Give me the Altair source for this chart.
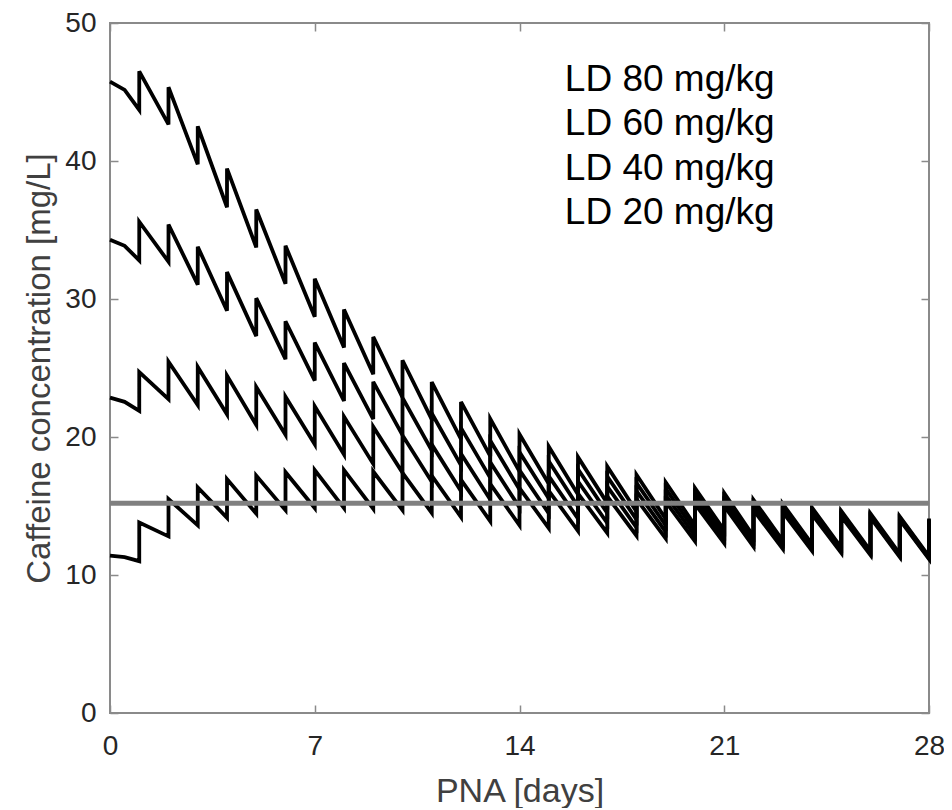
import altair as alt
import pandas as pd

series_names = ["LD 20 mg/kg", "LD 40 mg/kg", "LD 60 mg/kg", "LD 80 mg/kg"]

# concentration right after each daily dose (index = day 0..28; day 0 = start)
peaks = {
    "LD 20 mg/kg": [11.4, 13.8, 15.5, 16.35, 16.95, 17.2, 17.45, 17.6, 17.6, 17.5,
                    17.4, 17.2, 16.9, 16.6, 16.3, 16.1, 15.9, 15.7, 15.5, 15.3,
                    15.15, 15.0, 14.7, 14.55, 14.4, 14.25, 14.15, 14.0, 13.9],
    "LD 40 mg/kg": [22.85, 24.7, 25.45, 25.07, 24.45, 23.63, 22.92, 22.22, 21.48, 20.75,
                    20.12, 19.46, 18.78, 18.17, 17.6, 17.17, 16.78, 16.42, 16.09, 15.77,
                    15.53, 15.31, 14.95, 14.75, 14.56, 14.38, 14.25, 14.08, 13.97],
    "LD 60 mg/kg": [34.3, 35.6, 35.4, 33.79, 31.95, 30.06, 28.39, 26.84, 25.36, 24.0,
                    22.84, 21.72, 20.66, 19.74, 18.9, 18.24, 17.66, 17.14, 16.67, 16.24,
                    15.91, 15.62, 15.2, 14.95, 14.72, 14.51, 14.35, 14.16, 14.03],
    "LD 80 mg/kg": [45.75, 46.5, 45.35, 42.51, 39.45, 36.49, 33.86, 31.46, 29.24, 27.25,
                    25.56, 23.98, 22.54, 21.31, 20.2, 19.31, 18.54, 17.86, 17.26, 16.71,
                    16.29, 15.93, 15.45, 15.15, 14.88, 14.64, 14.45, 14.24, 14.1],
}

# concentration just before each daily dose (days 1..28)
troughs = {
    "LD 20 mg/kg": [11.0, 12.8, 13.6, 14.15, 14.45, 14.7, 14.85, 14.85, 14.8, 14.7,
                    14.5, 14.2, 13.9, 13.6, 13.4, 13.2, 13.05, 12.85, 12.65, 12.45,
                    12.3, 12.05, 11.9, 11.75, 11.6, 11.45, 11.3, 11.15],
    "LD 40 mg/kg": [21.9, 22.75, 22.32, 21.65, 20.88, 20.17, 19.47, 18.73, 18.05, 17.42,
                    16.76, 16.08, 15.47, 14.9, 14.47, 14.08, 13.77, 13.44, 13.12, 12.83,
                    12.61, 12.3, 12.1, 11.91, 11.73, 11.55, 11.38, 11.22],
    "LD 60 mg/kg": [32.8, 32.7, 31.04, 29.15, 27.31, 25.64, 24.09, 22.61, 21.3, 20.14,
                    19.02, 17.96, 17.04, 16.2, 15.54, 14.96, 14.49, 14.02, 13.59, 13.21,
                    12.92, 12.55, 12.3, 12.07, 11.86, 11.65, 11.46, 11.28],
    "LD 80 mg/kg": [43.7, 42.65, 39.76, 36.65, 33.74, 31.11, 28.71, 26.49, 24.55, 22.86,
                    21.28, 19.84, 18.61, 17.5, 16.61, 15.84, 15.21, 14.6, 14.06, 13.59,
                    13.23, 12.8, 12.5, 12.23, 11.99, 11.75, 11.54, 11.35],
}

# concentration half a day after the start
mid_day0 = {"LD 20 mg/kg": 11.3, "LD 40 mg/kg": 22.55, "LD 60 mg/kg": 33.85, "LD 80 mg/kg": 45.15}

target = 15.2
x_ticks = [0, 7, 14, 21, 28]
y_ticks = [0, 10, 20, 30, 40, 50]

label_texts = ["LD 80 mg/kg", "LD 60 mg/kg", "LD 40 mg/kg", "LD 20 mg/kg"]
label_day = [15.55, 15.55, 15.55, 15.55]
label_conc = [45.1, 41.85, 38.65, 35.45]

rows = []
for name in series_names:
    p = peaks[name]
    t = troughs[name]
    seq = [(0, p[0]), (0.5, mid_day0[name])]
    for d in range(1, len(p)):
        seq.append((d, t[d - 1]))
        seq.append((d, p[d]))
    for i, (x, y) in enumerate(seq):
        rows.append({"series": name, "day": x, "conc": y, "order": i})
df = pd.DataFrame(rows)

xs = alt.Scale(domain=[0, 28], nice=False)
ys = alt.Scale(domain=[0, 50], nice=False)

AX = "#8a8a8a"
LAB = "#262626"
FONT = "Liberation Sans"

lines = alt.Chart(df).mark_line(color="black", strokeWidth=3.8, strokeJoin="miter").encode(
    x=alt.X("day:Q", scale=xs, axis=alt.Axis(
        orient="bottom", values=x_ticks, tickSize=0, domain=False, grid=False,
        labelFontSize=28, labelFont=FONT, labelColor=LAB, labelPadding=19,
        labelFlush=False, labelOverlap=False,
        title="PNA [days]", titleFont=FONT, titleFontSize=34, titleFontWeight="normal",
        titleColor="#404040", titlePadding=14)),
    y=alt.Y("conc:Q", scale=ys, axis=alt.Axis(
        orient="left", values=y_ticks, tickSize=0, domain=False, grid=False,
        labelFontSize=28, labelFont=FONT, labelColor=LAB, labelPadding=14,
        labelFlush=False, labelOverlap=False,
        title="Caffeine concentration [mg/L]", titleFont=FONT, titleFontSize=33,
        titleFontWeight="normal", titleColor="#404040", titlePadding=8)),
    detail="series:N",
    order="order:Q",
)

tick_axis = dict(offset=-8, tickSize=8, labels=False, domain=False, grid=False,
                 tickColor=AX, tickWidth=1.5, title=None)

rule_df = pd.DataFrame({"target": [target], "x0": [x_ticks[0]], "x1": [x_ticks[-1]]})
rule = alt.Chart(rule_df).mark_rule(color="#808080", strokeWidth=5).encode(
    x=alt.X("x0:Q", scale=xs, axis=alt.Axis(orient="top", values=x_ticks, **tick_axis)),
    x2="x1:Q",
    y=alt.Y("target:Q", scale=ys, axis=alt.Axis(orient="right", values=y_ticks, **tick_axis)),
)

lab_df = pd.DataFrame({"text": label_texts, "day": label_day, "conc": label_conc})
labels = alt.Chart(lab_df).mark_text(
    align="left", baseline="alphabetic", fontSize=37, font=FONT, color="black"
).encode(
    x=alt.X("day:Q", scale=xs, axis=alt.Axis(orient="bottom", values=x_ticks, **tick_axis)),
    y=alt.Y("conc:Q", scale=ys, axis=alt.Axis(orient="left", values=y_ticks, **tick_axis)),
    text="text:N",
)

chart = alt.layer(lines, rule, labels).resolve_axis(
    x="independent", y="independent"
).properties(
    width=819, height=690, autosize="none",
    padding={"left": 102, "top": 15, "right": 15, "bottom": 95},
).configure_view(stroke=AX, strokeWidth=2)

chart.save("out.html", embed_options={"renderer": "svg", "actions": False})
